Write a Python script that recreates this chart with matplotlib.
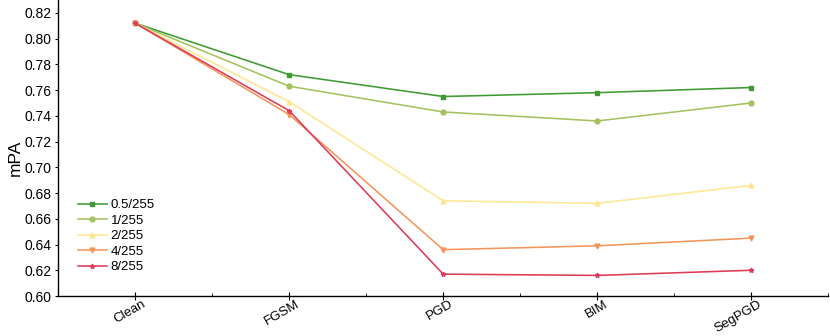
import matplotlib
matplotlib.use("Agg")
import matplotlib.pyplot as plt
from matplotlib.ticker import MultipleLocator
from matplotlib.transforms import ScaledTranslation

plt.rcParams['font.family'] = ['Liberation Sans', 'DejaVu Sans']

categories = ["Clean", "FGSM", "PGD", "BIM", "SegPGD"]
series_labels = ["0.5/255", "1/255", "2/255", "4/255", "8/255"]
eps_05 = [0.812, 0.772, 0.755, 0.758, 0.762]
eps_1 = [0.812, 0.763, 0.743, 0.736, 0.750]
eps_2 = [0.812, 0.751, 0.674, 0.672, 0.686]
eps_4 = [0.812, 0.741, 0.636, 0.639, 0.645]
eps_8 = [0.812, 0.744, 0.617, 0.616, 0.620]
series = [eps_05, eps_1, eps_2, eps_4, eps_8]

colors = ["#3f9a34", "#a5c25e", "#fee792", "#f4955a", "#df3c58"]
markers = ["s", "o", "^", "v", "*"]

fig = plt.figure(figsize=(8.3, 3.36), dpi=100)
ax = fig.add_axes([0.070, 0.119, 0.928, 0.881])

x = list(range(len(categories)))
for vals, lab, c, m in zip(series, series_labels, colors, markers):
    ax.plot(x, vals, color=c, marker=m, markersize=3.5, linewidth=1.15, label=lab)

ax.set_xlim(-0.5, 4.5)
ax.set_ylim(0.60, 0.83)
ax.set_xticks(x)
ax.xaxis.set_minor_locator(MultipleLocator(0.5))
ax.yaxis.set_major_locator(MultipleLocator(0.02))
ax.tick_params(axis='x', which='major', direction='inout', length=6, width=0.8, pad=1)
ax.tick_params(axis='x', which='minor', direction='in', length=2, width=0.6)
ax.tick_params(axis='y', which='major', direction='out', length=2.5, width=0.8, pad=2.5)
ax.set_yticklabels([f"{v:.2f}" for v in ax.get_yticks()], fontsize=10)
ax.set_xticklabels(categories, rotation=30, ha='right', va='top',
                   rotation_mode='anchor', fontsize=9.5)
offset = ScaledTranslation(4.5 / 72, 2.5 / 72, fig.dpi_scale_trans)
for lbl in ax.get_xticklabels():
    lbl.set_transform(lbl.get_transform() + offset)
for s in ['top', 'right']:
    ax.spines[s].set_visible(False)
for s in ['left', 'bottom']:
    ax.spines[s].set_linewidth(1.0)
ax.set_ylabel("mPA", fontsize=12.5)
ax.yaxis.set_label_coords(-0.046, 0.466)

ax.legend(loc='lower left', bbox_to_anchor=(0.015, 0.05), frameon=False, fontsize=9.5,
          handlelength=2.2, handletextpad=0.3, labelspacing=0.25, borderaxespad=0.2)

fig.savefig("out.png", dpi=100)
